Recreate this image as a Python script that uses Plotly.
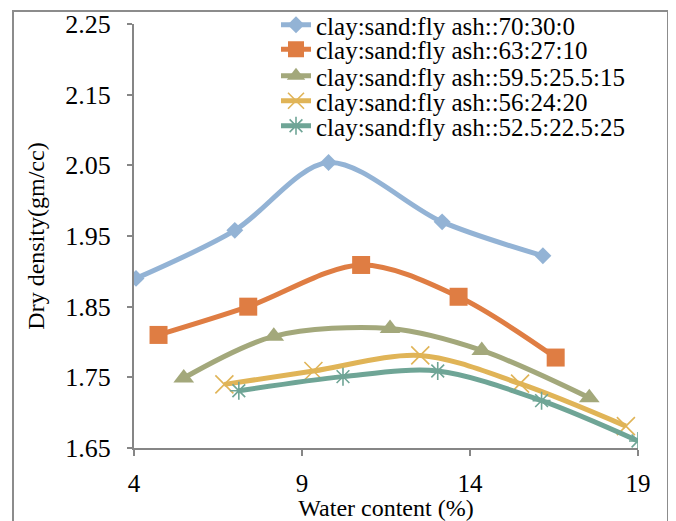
import plotly.graph_objects as go

# Data
series_names = [
    "clay:sand:fly ash::70:30:0",
    "clay:sand:fly ash::63:27:10",
    "clay:sand:fly ash::59.5:25.5:15",
    "clay:sand:fly ash::56:24:20",
    "clay:sand:fly ash::52.5:22.5:25",
]

water_70_30_0 = [4.06, 7.00, 9.79, 13.17, 16.17]
density_70_30_0 = [1.890, 1.958, 2.054, 1.970, 1.922]

water_63_27_10 = [4.73, 7.40, 10.76, 13.66, 16.55]
density_63_27_10 = [1.810, 1.850, 1.909, 1.864, 1.778]

water_595_255_15 = [5.48, 8.16, 11.62, 14.35, 17.55]
density_595_255_15 = [1.749, 1.808, 1.819, 1.788, 1.721]

water_56_24_20 = [6.69, 9.34, 12.52, 15.49, 18.64]
density_56_24_20 = [1.740, 1.759, 1.781, 1.741, 1.681]

water_525_225_25 = [7.12, 10.22, 13.04, 16.13, 19.00]
density_525_225_25 = [1.731, 1.751, 1.759, 1.717, 1.660]

x_ticks = [4, 9, 14, 19]
y_ticks = [1.65, 1.75, 1.85, 1.95, 2.05, 2.15, 2.25]

xs = [water_70_30_0, water_63_27_10, water_595_255_15, water_56_24_20, water_525_225_25]
ys = [density_70_30_0, density_63_27_10, density_595_255_15, density_56_24_20, density_525_225_25]

colors = ["#93B3D5", "#DF7D43", "#A3A87B", "#E0B457", "#6FA596"]
symbols = ["diamond", "square", "triangle-up", "x-thin-open", "asterisk-open"]
sizes = [13, 18, 18, 18, 15]

FONT = "Liberation Serif, Times New Roman, serif"

# The page body adds an 8px offset, so the figure is 8px smaller and
# reference pixel p maps to figure pixel p - 8.
OFF = 8
W, H = 676 - OFF, 521 - OFF
L, T = 134 - OFF, 24 - OFF
R, B = W - (638 - OFF), H - (448 - OFF)
pw, ph = W - L - R, H - T - B


def px_to_paper_x(p):
    return (p - OFF - L) / pw


def px_to_paper_y(p):
    return (H - B - (p - OFF)) / ph


legend_keys = ["legend", "legend2", "legend3", "legend4", "legend5"]
legend_centers_px = [25, 49.5, 76, 101, 126]

fig = go.Figure()
for name, x, y, c, s, sz, lk in zip(series_names, xs, ys, colors, symbols, sizes, legend_keys):
    thin = s.endswith("-open")
    fig.add_trace(go.Scatter(
        x=x, y=y, name=name, mode="lines+markers", legend=lk,
        line=dict(color=c, width=5, shape="spline", smoothing=0.9),
        marker=dict(symbol=s, size=sz, color=c,
                    line=dict(color=c, width=1.6 if thin else 0)),
    ))

legend_layout = {}
for lk, cy in zip(legend_keys, legend_centers_px):
    legend_layout[lk] = dict(
        x=px_to_paper_x(276), y=px_to_paper_y(cy), xanchor="left", yanchor="middle",
        bgcolor="rgba(255,255,255,0)", borderwidth=0,
        font=dict(family=FONT, size=25, color="black"),
        itemwidth=30,
    )

fig.update_layout(
    width=W, height=H,
    margin=dict(l=L, r=R, t=T, b=B, pad=0, autoexpand=False),
    paper_bgcolor="white", plot_bgcolor="white",
    font=dict(family=FONT, size=25, color="black"),
    showlegend=True,
    xaxis=dict(
        range=[4, 19], tickvals=x_ticks, ticktext=[str(v) for v in x_ticks],
        showgrid=False, zeroline=False, automargin=False,
        showline=True, linecolor="#868686", linewidth=2,
        ticks="outside", ticklen=6, tickwidth=2, tickcolor="#868686",
        ticklabelstandoff=6,
        tickfont=dict(family=FONT, size=25),
        title=dict(text="Water content (%)", font=dict(family=FONT, size=24), standoff=14),
    ),
    yaxis=dict(
        range=[1.65, 2.25], tickvals=y_ticks, ticktext=[f"{v:.2f}" for v in y_ticks],
        showgrid=False, zeroline=False, automargin=False,
        showline=True, linecolor="#868686", linewidth=2,
        ticks="outside", ticklen=5, tickwidth=2, tickcolor="#868686",
        ticklabelstandoff=11,
        tickfont=dict(family=FONT, size=26),
        title=dict(text="Dry density(gm/cc)", font=dict(family=FONT, size=24), standoff=14),
    ),
    shapes=[dict(
        type="rect", xref="paper", yref="paper",
        x0=px_to_paper_x(13), x1=px_to_paper_x(668),
        y0=px_to_paper_y(540), y1=px_to_paper_y(11),
        line=dict(color="#8C8C8C", width=2), fillcolor="rgba(0,0,0,0)", layer="below",
    )],
    **legend_layout,
)

fig.write_html("out.html")
